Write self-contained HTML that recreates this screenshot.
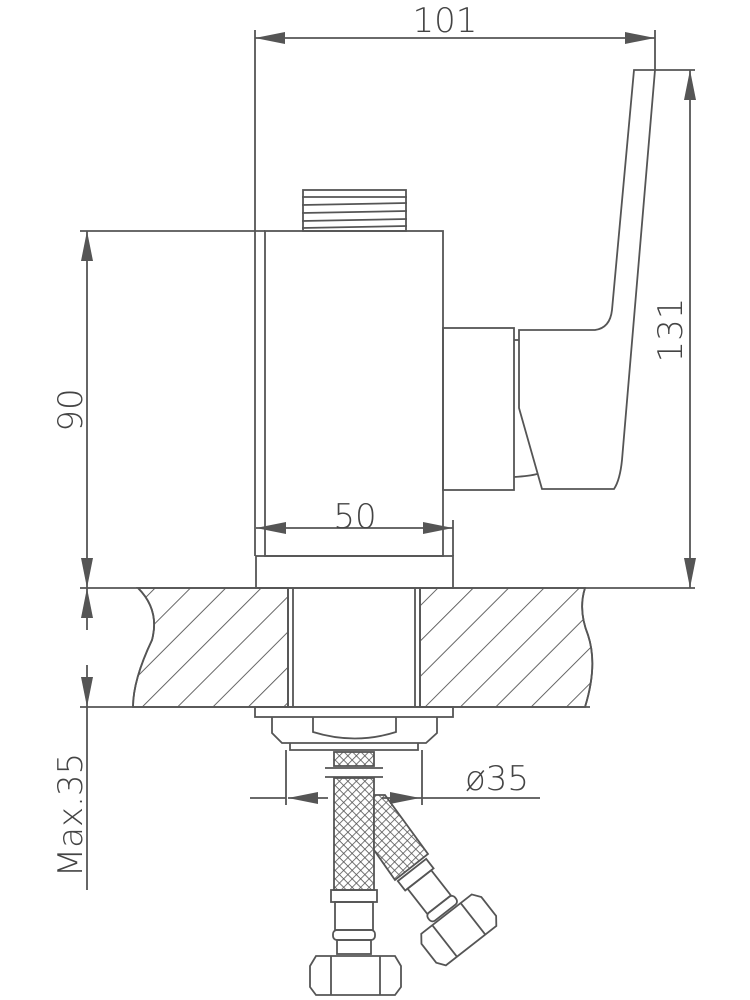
<!DOCTYPE html>
<html><head><meta charset="utf-8"><style>
html,body{margin:0;padding:0;background:#fff;}
svg{display:block;}
text{font-family:"DejaVu Sans","Liberation Sans",sans-serif;fill:#444;font-weight:200;}
</style></head><body>
<svg width="750" height="1000" viewBox="0 0 750 1000" xmlns="http://www.w3.org/2000/svg">
<defs>
<pattern id="hat" patternUnits="userSpaceOnUse" width="25" height="25" patternTransform="rotate(45)">
<line x1="0" y1="0" x2="0" y2="25" stroke="#555" stroke-width="1.8"/>
</pattern>
<pattern id="mesh" patternUnits="userSpaceOnUse" width="6" height="6" patternTransform="rotate(45)">
<rect width="6" height="6" fill="#fff"/>
<line x1="0" y1="0" x2="6" y2="0" stroke="#555" stroke-width="1.6"/>
<line x1="0" y1="0" x2="0" y2="6" stroke="#555" stroke-width="1.6"/>
</pattern>
<marker id="ar" viewBox="0 0 30 12" refX="30" refY="6" markerWidth="30" markerHeight="12" markerUnits="userSpaceOnUse" orient="auto-start-reverse">
<path d="M0,0 L30,6 L0,12 Z" fill="#555"/>
</marker>
</defs>
<g stroke="#555" stroke-width="1.8" fill="none">
<path d="M138,588 Q160,610 152,640 Q133,680 133,707 L288,707 L288,588 Z" fill="url(#hat)"/>
<path d="M420,588 L585,588 Q578,610 588,635 Q598,665 585,707 L420,707 Z" fill="url(#hat)"/>
<path d="M138,588 Q160,610 152,640 Q133,680 133,707"/>
<path d="M585,588 Q578,610 588,635 Q598,665 585,707"/>
<line x1="80" y1="588" x2="695" y2="588"/>
<line x1="80" y1="707" x2="590" y2="707"/>
<line x1="288" y1="588" x2="288" y2="707"/>
<line x1="293" y1="588" x2="293" y2="707"/>
<line x1="415" y1="588" x2="415" y2="707"/>
<line x1="420" y1="588" x2="420" y2="707"/>
<rect x="256" y="556" width="197" height="32"/>
<rect x="265" y="231" width="178" height="325"/>
<line x1="453" y1="520" x2="453" y2="556"/>
<rect x="303" y="190" width="103" height="41"/>
<line x1="302" y1="197" x2="407" y2="197"/>
<line x1="302" y1="205" x2="407" y2="203"/>
<line x1="302" y1="213" x2="407" y2="211"/>
<line x1="302" y1="221" x2="407" y2="219"/>
<line x1="302" y1="228" x2="407" y2="226"/>
<rect x="443" y="328" width="71" height="162"/>
<line x1="514" y1="340" x2="519" y2="340"/>
<path d="M514,477 Q530,476 537,474"/>
<path d="M519,330 L595,330 Q610,328 612,310 L634,70 L655,70 L622,460 Q620,480 614,489 L542,489 L519,408 Z"/>
<rect x="255" y="707" width="198" height="10"/>
<path d="M272,717 L272,733 L282,743 L426,743 L437,733 L437,717"/>
<path d="M313,717 L313,732 Q355,745 396,732 L396,717"/>
<path d="M290,743 L290,750 L418,750 L418,743"/>
<rect x="334" y="752" width="40" height="14" fill="url(#mesh)"/>
<rect x="334" y="778" width="40" height="112" fill="url(#mesh)"/>
<line x1="325" y1="768" x2="383" y2="768"/>
<line x1="325" y1="777" x2="383" y2="777"/>
<path d="M374,795 L385,795 L428,854 L395,880 L374,850 Z" fill="url(#mesh)"/>
<rect x="331" y="890" width="46" height="12"/>
<rect x="335" y="902" width="38" height="28"/>
<rect x="333" y="930" width="42" height="10" rx="4"/>
<rect x="337" y="940" width="34" height="14"/>
<path d="M316,956 L395,956 L401,966 L401,987 L395,995 L316,995 L310,987 L310,966 Z"/>
<line x1="331" y1="956" x2="331" y2="995"/>
<line x1="380" y1="956" x2="380" y2="995"/>
<g transform="translate(412,870) rotate(-38)">
<rect x="-18" y="0" width="36" height="12"/>
<rect x="-15" y="12" width="30" height="32"/>
<rect x="-17" y="44" width="34" height="10" rx="4"/>
<path d="M-32,56 L32,56 L38,64 L38,88 L32,96 L-32,96 L-38,88 L-38,64 Z"/>
<line x1="-18" y1="56" x2="-18" y2="96"/>
<line x1="18" y1="56" x2="18" y2="96"/>
</g>
<line x1="255" y1="30" x2="255" y2="556"/>
<line x1="655" y1="30" x2="655" y2="70"/>
<line x1="255" y1="38" x2="655" y2="38" marker-start="url(#ar)" marker-end="url(#ar)"/>
<line x1="655" y1="70" x2="695" y2="70"/>
<line x1="690" y1="70" x2="690" y2="588" marker-start="url(#ar)" marker-end="url(#ar)"/>
<line x1="80" y1="231" x2="265" y2="231"/>
<line x1="87" y1="231" x2="87" y2="588" marker-start="url(#ar)" marker-end="url(#ar)"/>
<line x1="256" y1="528" x2="453" y2="528" marker-start="url(#ar)" marker-end="url(#ar)"/>
<line x1="87" y1="630" x2="87" y2="588" marker-end="url(#ar)"/>
<line x1="87" y1="665" x2="87" y2="707" marker-end="url(#ar)"/>
<line x1="87" y1="707" x2="87" y2="890"/>
<line x1="286" y1="750" x2="286" y2="805"/>
<line x1="422" y1="750" x2="422" y2="805"/>
<line x1="250" y1="798" x2="286" y2="798"/>
<line x1="328" y1="798" x2="288" y2="798" marker-end="url(#ar)"/>
<line x1="382" y1="798" x2="420" y2="798" marker-end="url(#ar)"/>
<line x1="420" y1="798" x2="540" y2="798"/>
</g>
<text x="445" y="32" font-size="34" text-anchor="middle">101</text>
<text x="355" y="530" font-size="34" text-anchor="middle" dy="-2">50</text>
<text x="497" y="790" font-size="34" text-anchor="middle">ø35</text>
<text transform="translate(682,330) rotate(-90)" font-size="34" text-anchor="middle">131</text>
<text transform="translate(82,410) rotate(-90)" font-size="34" text-anchor="middle">90</text>
<text transform="translate(82,815) rotate(-90)" font-size="34" text-anchor="middle">Max.35</text>
</svg>
</body></html>
